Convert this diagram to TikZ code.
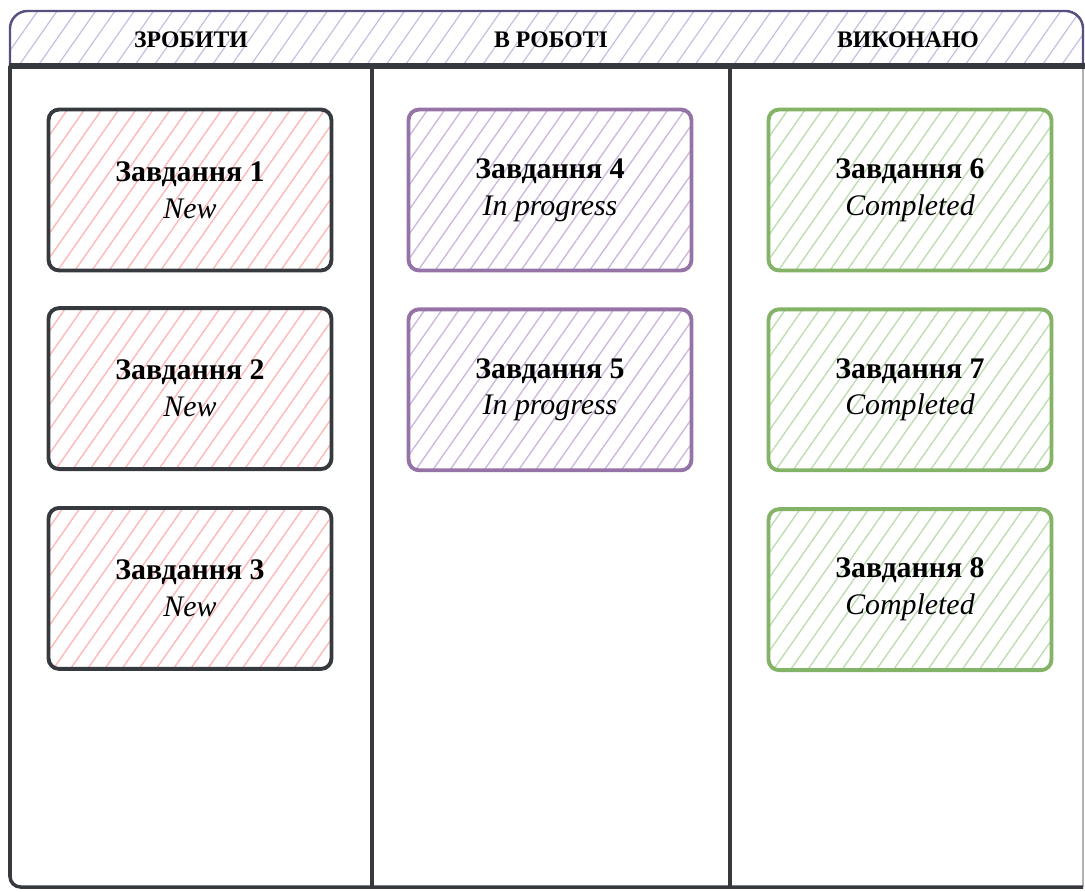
\documentclass[tikz,border=0pt]{standalone}
\usepackage{fontspec}
\setmainfont{Liberation Serif}
\usetikzlibrary{positioning,patterns.meta}
\definecolor{inkgray}{HTML}{36393D}
\definecolor{headline}{HTML}{56517E}
\definecolor{headhatch}{HTML}{C4C0E0}
\definecolor{todohatch}{HTML}{FFB8B8}
\definecolor{doingline}{HTML}{9673A6}
\definecolor{doinghatch}{HTML}{CDB9DD}
\definecolor{doneline}{HTML}{82B366}
\definecolor{donehatch}{HTML}{BEDDB2}
\def\todonode{\node[card,draw=inkgray,pattern color=todohatch]}
\def\doingnode{\node[card,draw=doingline,pattern color=doinghatch]}
\def\donenode{\node[card,draw=doneline,pattern color=donehatch]}
\def\colnode{\node[font=\bfseries\fontsize{13.5}{16}\selectfont]}

\begin{document}
\begin{tikzpicture}[x=0.02cm,y=-0.02cm,
  card/.style={rectangle,rounded corners=6pt,line width=2.2pt,
    minimum width=5.66cm,minimum height=3.22cm,align=center,
    pattern={Lines[angle=55,distance=8pt,line width=0.8pt]},
    font=\fontsize{17}{21}\selectfont},
  hatch/.style={pattern={Lines[angle=55,distance=9pt,line width=0.7pt]}},
  frame/.style={draw=inkgray,line width=2.8pt}]
\useasboundingbox (0,0) rectangle (1085,892);
% header band
\draw[headline,line width=1.4pt,hatch,pattern color=headhatch,rounded corners=10pt]
  (10,66) -- (10,11) -- (1083,11) -- (1083,66);
\colnode (todo_h) at (191,40) {ЗРОБИТИ};
\colnode (doing_h) at (551,40) {В РОБОТІ};
\colnode (done_h) at (908,40) {ВИКОНАНО};
% board frame
\draw[gray!60,line width=0.8pt] (1083,66) -- (1083,887);
\draw[frame,line width=2pt,rounded corners=6pt] (10,66) |- (1083,887);
\draw[frame,line width=3.2pt] (9,66) -- (1085,66);
\draw[frame] (372,66) -- (372,888);
\draw[frame] (730,66) -- (730,888);
% cards
\todonode (t1) at (190,190) {\textbf{Завдання 1}\\\textit{New}};
\todonode (t2) [below=0.7cm of t1] {\textbf{Завдання 2}\\\textit{New}};
\todonode (t3) [below=0.7cm of t2] {\textbf{Завдання 3}\\\textit{New}};
\doingnode (t4) at (550,190) {\textbf{Завдання 4}\\\textit{In progress}};
\doingnode (t5) [below=0.7cm of t4] {\textbf{Завдання 5}\\\textit{In progress}};
\donenode (t6) at (910,190) {\textbf{Завдання 6}\\\textit{Completed}};
\donenode (t7) [below=0.7cm of t6] {\textbf{Завдання 7}\\\textit{Completed}};
\donenode (t8) [below=0.7cm of t7] {\textbf{Завдання 8}\\\textit{Completed}};
\end{tikzpicture}
\end{document}
